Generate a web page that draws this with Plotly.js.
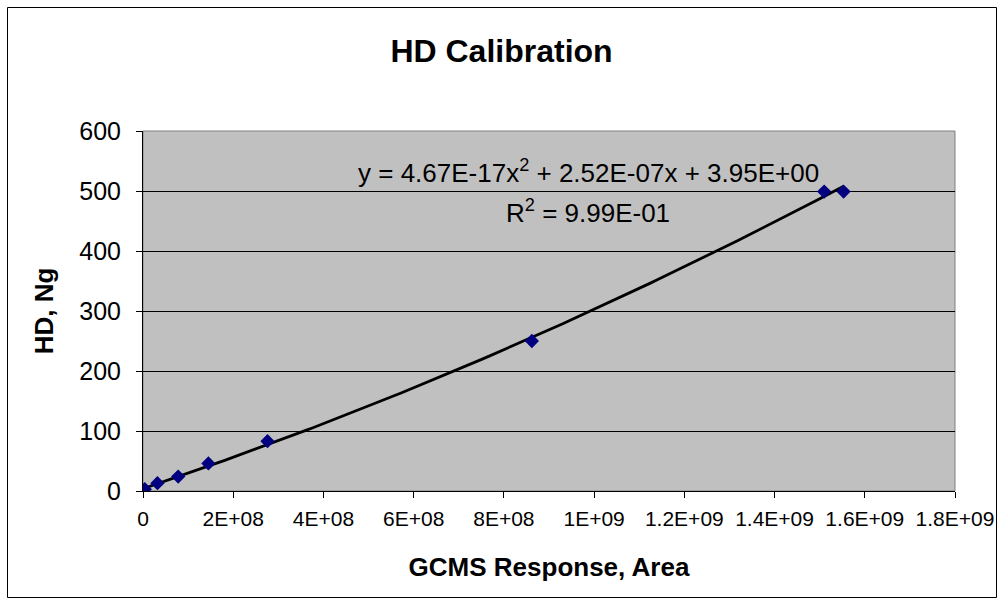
<!DOCTYPE html>
<html>
<head>
<meta charset="utf-8">
<script src="https://cdn.plot.ly/plotly-3.0.1.min.js"></script>
<style>
html,body{margin:0;padding:0;background:#fff;}
#chart{width:1003px;height:605px;}
</style>
</head>
<body>
<div id="chart"></div>
<script>
// Data
var gcmsArea = [0, 4e6, 3.2e7, 7.8e7, 1.45e8, 2.76e8, 8.62e8, 1.51e9, 1.553e9];
var hdNg = [0, 3, 13, 24, 46, 83, 250, 499, 499];
// Polynomial trendline coefficients shown on the chart (a x^2 + b x + c)
var fitCoef = [4.67e-17, 2.52e-7, 3.95];
var xTickVals = [0, 2e8, 4e8, 6e8, 8e8, 1e9, 1.2e9, 1.4e9, 1.6e9, 1.8e9];
var xTickText = ["0", "2E+08", "4E+08", "6E+08", "8E+08", "1E+09", "1.2E+09", "1.4E+09", "1.6E+09", "1.8E+09"];
var yTickVals = [0, 100, 200, 300, 400, 500, 600];

var xMax = Math.max.apply(null, gcmsArea);
var fitX = [], fitY = [];
for (var i = 0; i <= 120; i++) {
  var xv = xMax * i / 120;
  fitX.push(xv);
  fitY.push(fitCoef[0] * xv * xv + fitCoef[1] * xv + fitCoef[2]);
}

var FONT = "Liberation Sans, Arial, sans-serif";

var traces = [
  {
    x: fitX, y: fitY, type: "scatter", mode: "lines",
    line: {color: "#000000", width: 2.8}, hoverinfo: "skip", showlegend: false
  },
  {
    x: gcmsArea, y: hdNg, type: "scatter", mode: "markers",
    marker: {symbol: "diamond", color: "#000080", size: 11, line: {width: 0}},
    showlegend: false
  }
];

var L = 143, R = 48, T = 131, B = 114, W = 1003, H = 605;
var pw = W - L - R, ph = H - T - B;
function px2x(p) { return (p - L) / pw; }
function py2y(p) { return (H - B - p) / ph; }

var layout = {
  width: W, height: H,
  margin: {l: L, r: R, t: T, b: B, pad: 0},
  paper_bgcolor: "#ffffff",
  plot_bgcolor: "#c0c0c0",
  font: {family: FONT, color: "#000"},
  title: {
    text: "<b>HD Calibration</b>",
    font: {family: FONT, size: 32, color: "#000"},
    x: 0.5, xref: "container", xanchor: "center",
    y: 1 - 51 / H, yref: "container", yanchor: "middle"
  },
  xaxis: {
    range: [0, 1.8e9],
    tickvals: xTickVals, ticktext: xTickText,
    tickfont: {family: FONT, size: 21, color: "#000"},
    ticks: "outside", ticklen: 6, tickcolor: "#000", tickwidth: 1,
    ticklabelstandoff: 3,
    showline: true, linecolor: "#000", linewidth: 1,
    showgrid: false, zeroline: false,
    title: {text: "<b>GCMS Response, Area</b>", font: {family: FONT, size: 26, color: "#000"}, standoff: 28},
    fixedrange: true
  },
  yaxis: {
    range: [0, 600],
    tickvals: yTickVals,
    tickfont: {family: FONT, size: 25, color: "#000"},
    ticks: "outside", ticklen: 6, tickcolor: "#000", tickwidth: 1,
    ticklabelstandoff: 10,
    showline: true, linecolor: "#000", linewidth: 1,
    showgrid: true, gridcolor: "#000000", gridwidth: 1,
    zeroline: false,
    title: {text: "<b>HD, Ng</b>", font: {family: FONT, size: 26, color: "#000"}, standoff: 18},
    fixedrange: true
  },
  shapes: [
    {type: "rect", xref: "paper", yref: "paper", x0: 0, x1: 1, y0: 0, y1: 1,
     line: {color: "#808080", width: 1}, fillcolor: "rgba(0,0,0,0)", layer: "below"},
    {type: "rect", xref: "paper", yref: "paper",
     x0: px2x(7.5), x1: px2x(996.5), y0: py2y(597.5), y1: py2y(7.5),
     line: {color: "#000", width: 1}, fillcolor: "rgba(0,0,0,0)"}
  ],
  annotations: [
    {text: "y = 4.67E-17x<sup>2</sup> + 2.52E-07x + 3.95E+00",
     xref: "paper", yref: "paper", x: px2x(588), y: py2y(171),
     xanchor: "center", yanchor: "middle", showarrow: false,
     font: {family: FONT, size: 26, color: "#000"}},
    {text: "R<sup>2</sup> = 9.99E-01",
     xref: "paper", yref: "paper", x: px2x(588), y: py2y(211),
     xanchor: "center", yanchor: "middle", showarrow: false,
     font: {family: FONT, size: 26, color: "#000"}}
  ]
};

Plotly.newPlot("chart", traces, layout, {displayModeBar: false, staticPlot: true});
</script>
</body>
</html>
